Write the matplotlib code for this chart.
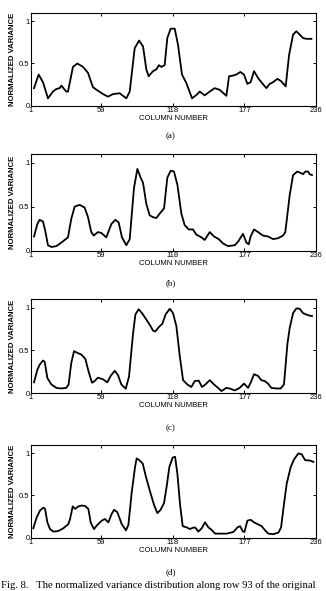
import matplotlib
matplotlib.use("Agg")
import matplotlib.pyplot as plt

# ---------------- data ----------------
x_ticks = [1, 59, 118, 177, 236]
y_ticks = [0, 0.5, 1]
y_ticklabels = ["0", "0.5", "1"]
panel_labels = ["(a)", "(b)", "(c)", "(d)"]
x_label = "COLUMN NUMBER"
y_label = "NORMALIZED VARIANCE"
caption = "Fig. 8.   The normalized variance distribution along row 93 of the original"

cols_a = [3.5, 7.3, 10.9, 15, 19.1, 21.9, 24.6, 26, 30.1, 31.5, 35.6, 39.2, 43.9, 48, 52.1, 56.2,
          60.4, 64.5, 68.6, 74.1, 79.6, 82.4, 86.5, 90.1, 93.4, 96.1, 98, 101.6, 104.3, 106.5,
          108.5, 111.2, 113.4, 116.2, 119.5, 122.2, 125.5, 129.1, 133.8, 137.4, 140.1, 144.2,
          148.4, 152.5, 156.6, 162.1, 164.3, 166.7, 170.3, 173.6, 176.6, 179.4, 182.1, 184.9,
          188.2, 190.9, 195.1, 197.8, 200.6, 204.2, 207.4, 211, 213.8, 217.1, 219.8, 222.6,
          225.3, 228.1, 232.2]
vals_a = [0.21, 0.37, 0.28, 0.09, 0.17, 0.20, 0.21, 0.24, 0.17, 0.17, 0.46, 0.50, 0.46, 0.39,
          0.22, 0.18, 0.14, 0.11, 0.14, 0.15, 0.09, 0.17, 0.68, 0.77, 0.70, 0.43, 0.35, 0.41,
          0.43, 0.48, 0.46, 0.48, 0.80, 0.91, 0.91, 0.72, 0.37, 0.27, 0.09, 0.13, 0.17, 0.125,
          0.17, 0.21, 0.19, 0.12, 0.35, 0.355, 0.37, 0.40, 0.37, 0.26, 0.28, 0.41, 0.33, 0.28,
          0.21, 0.26, 0.28, 0.32, 0.29, 0.23, 0.60, 0.84, 0.88, 0.84, 0.80, 0.79, 0.79]

cols_b = [3.5, 6.2, 8.1, 10.9, 12.8, 15, 17.8, 21.9, 26, 31.5, 34.2, 37, 41.1, 45.2, 48, 50.7,
          52.7, 56.2, 59, 63.1, 67.2, 70.5, 73.3, 76, 79.6, 82.4, 85.9, 88.7, 91.4, 93.4, 96.1,
          98.9, 101.6, 104.3, 107.1, 110.7, 113.4, 116.2, 118.9, 121.7, 125, 127.7, 131, 134.6,
          137.4, 141.5, 144.2, 148.4, 151.9, 155.8, 159.3, 163.5, 169, 171.7, 175.8, 178.6,
          180.5, 182.1, 184.9, 188.2, 192.3, 196.4, 200.6, 204.7, 208.8, 210.7, 214.3, 217.1,
          220.6, 224, 225.3, 227.2, 229.4, 230.8, 232.7]
vals_b = [0.16, 0.30, 0.35, 0.33, 0.22, 0.06, 0.04, 0.05, 0.09, 0.15, 0.36, 0.50, 0.52, 0.49,
          0.38, 0.21, 0.17, 0.21, 0.20, 0.15, 0.30, 0.35, 0.32, 0.15, 0.06, 0.13, 0.71, 0.93,
          0.83, 0.77, 0.53, 0.40, 0.38, 0.37, 0.42, 0.48, 0.83, 0.91, 0.90, 0.75, 0.42, 0.29,
          0.24, 0.24, 0.18, 0.15, 0.12, 0.21, 0.16, 0.13, 0.08, 0.05, 0.06, 0.10, 0.19, 0.09,
          0.07, 0.16, 0.24, 0.21, 0.17, 0.16, 0.13, 0.14, 0.17, 0.21, 0.63, 0.86, 0.90, 0.88,
          0.87, 0.90, 0.90, 0.87, 0.86]

cols_c = [3.5, 6.2, 8.1, 10.9, 12.3, 14.5, 17.8, 21.9, 26, 30.1, 32, 34.2, 36.5, 39.2, 42.5,
          45.8, 48.5, 51.3, 53.5, 56.2, 60.4, 63.9, 66.7, 70, 72.7, 75.5, 79.1, 81.8, 85.1,
          87.1, 89.8, 92.5, 96.1, 99.7, 101.6, 103.5, 106.3, 109.3, 112, 115.4, 118.1, 120.9,
          123.6, 126.4, 129.9, 133.2, 136, 139.3, 142, 144.8, 148.4, 151.9, 155.2, 158, 162.1,
          164.8, 169, 173.1, 176.6, 180, 182.1, 184.9, 188.2, 190.9, 193.7, 196.4, 199.2,
          203.3, 206.9, 209.6, 212.4, 214.3, 217.1, 219.8, 222.6, 225.3, 229.4, 232.7]
vals_c = [0.125, 0.27, 0.33, 0.38, 0.365, 0.175, 0.10, 0.06, 0.053, 0.06, 0.10, 0.35, 0.49,
          0.47, 0.45, 0.40, 0.25, 0.12, 0.14, 0.18, 0.16, 0.125, 0.20, 0.26, 0.21, 0.10, 0.05,
          0.19, 0.69, 0.92, 0.98, 0.935, 0.86, 0.78, 0.73, 0.72, 0.77, 0.81, 0.92, 0.985, 0.935,
          0.78, 0.44, 0.15, 0.10, 0.07, 0.14, 0.145, 0.07, 0.10, 0.15, 0.10, 0.06, 0.023, 0.06,
          0.053, 0.03, 0.06, 0.11, 0.06, 0.12, 0.22, 0.20, 0.15, 0.14, 0.11, 0.06, 0.053, 0.053,
          0.10, 0.57, 0.76, 0.935, 0.99, 0.985, 0.935, 0.91, 0.90]

cols_d = [2.9, 5.7, 8.4, 11.2, 12.6, 14.5, 16.7, 19.4, 23.5, 27.7, 31.8, 33.2, 35.4, 37.3, 40,
          42.8, 45.5, 48.3, 50.2, 52.9, 55.7, 59.3, 62, 64.8, 67.5, 69.5, 72.2, 75.8, 79.3,
          81.3, 84, 86.8, 88.1, 90.3, 93.1, 95.8, 99.1, 102.4, 105.2, 107.9, 110.7, 112.9,
          115.1, 117.8, 119.8, 121.7, 123.9, 126.1, 129.4, 132.1, 134.3, 136.3, 139, 141.8,
          144.5, 147.3, 150, 152.8, 156.9, 162.4, 167.9, 171.2, 173.4, 175.6, 177, 179.4,
          182.2, 184.9, 187.7, 191.2, 194, 196.7, 200.9, 205, 207.2, 209.7, 211.9, 215.2,
          217.9, 221.5, 224.2, 227, 231.1, 233.9]
vals_d = [0.11, 0.24, 0.32, 0.355, 0.34, 0.18, 0.10, 0.07, 0.077, 0.11, 0.16, 0.22, 0.37, 0.34,
          0.37, 0.38, 0.375, 0.34, 0.18, 0.10, 0.15, 0.20, 0.22, 0.18, 0.28, 0.33, 0.30, 0.16,
          0.085, 0.15, 0.53, 0.84, 0.94, 0.92, 0.88, 0.72, 0.55, 0.39, 0.29, 0.33, 0.41, 0.61,
          0.84, 0.95, 0.96, 0.76, 0.39, 0.135, 0.12, 0.10, 0.115, 0.12, 0.07, 0.11, 0.18, 0.12,
          0.09, 0.046, 0.046, 0.046, 0.066, 0.12, 0.135, 0.073, 0.066, 0.20, 0.21, 0.18, 0.16,
          0.135, 0.085, 0.046, 0.04, 0.058, 0.12, 0.41, 0.645, 0.84, 0.93, 1.0, 0.99, 0.92,
          0.915, 0.90]

series = [(cols_a, vals_a), (cols_b, vals_b), (cols_c, vals_c), (cols_d, vals_d)]

# ---------------- layout ----------------
W, H = 326, 591
fig = plt.figure(figsize=(W / 100, H / 100), dpi=100)
fig.patch.set_facecolor("white")

# (top_px, bottom_px) of each axes box
boxes = [(12.5, 106), (154, 250.5), (299, 393), (445, 537.5)]
label_y = [136, 283, 428, 572]
left_px, right_px = 31, 316

sans = ["Liberation Sans", "DejaVu Sans"]
serif = ["Liberation Serif", "DejaVu Serif"]

for (cols, vals), (top, bot), lab, ly in zip(series, boxes, panel_labels, label_y):
    ax = fig.add_axes([left_px / W, 1 - bot / H, (right_px - left_px) / W, (bot - top) / H])
    ax.plot(cols, vals, color="black", lw=1.3, solid_joinstyle="round")
    ax.set_xlim(1, 236)
    ax.set_ylim(0, 1.1)
    ax.set_xticks(x_ticks)
    ax.set_xticklabels([str(t) for t in x_ticks])
    ax.set_yticks(y_ticks)
    ax.set_yticklabels(y_ticklabels)
    ax.tick_params(direction="in", length=2.5, width=0.7, top=True, right=True,
                   labelsize=5.5, pad=1.0, colors="black")
    for t in ax.get_xticklabels() + ax.get_yticklabels():
        t.set_family(sans)
    for s in ax.spines.values():
        s.set_linewidth(0.8)
    ax.set_xlabel(x_label, fontsize=5.6, family=sans, labelpad=0.5)
    ax.set_ylabel(y_label, fontsize=5.6, family=sans, labelpad=2.5, fontweight="bold")
    fig.text(171 / W, 1 - ly / H, lab, ha="center", va="center", fontsize=6.5, family=serif)

fig.text(0.004, 1.5 / H, caption, ha="left", va="bottom", fontsize=7.7, family=serif)

fig.savefig("out.png", dpi=100)
